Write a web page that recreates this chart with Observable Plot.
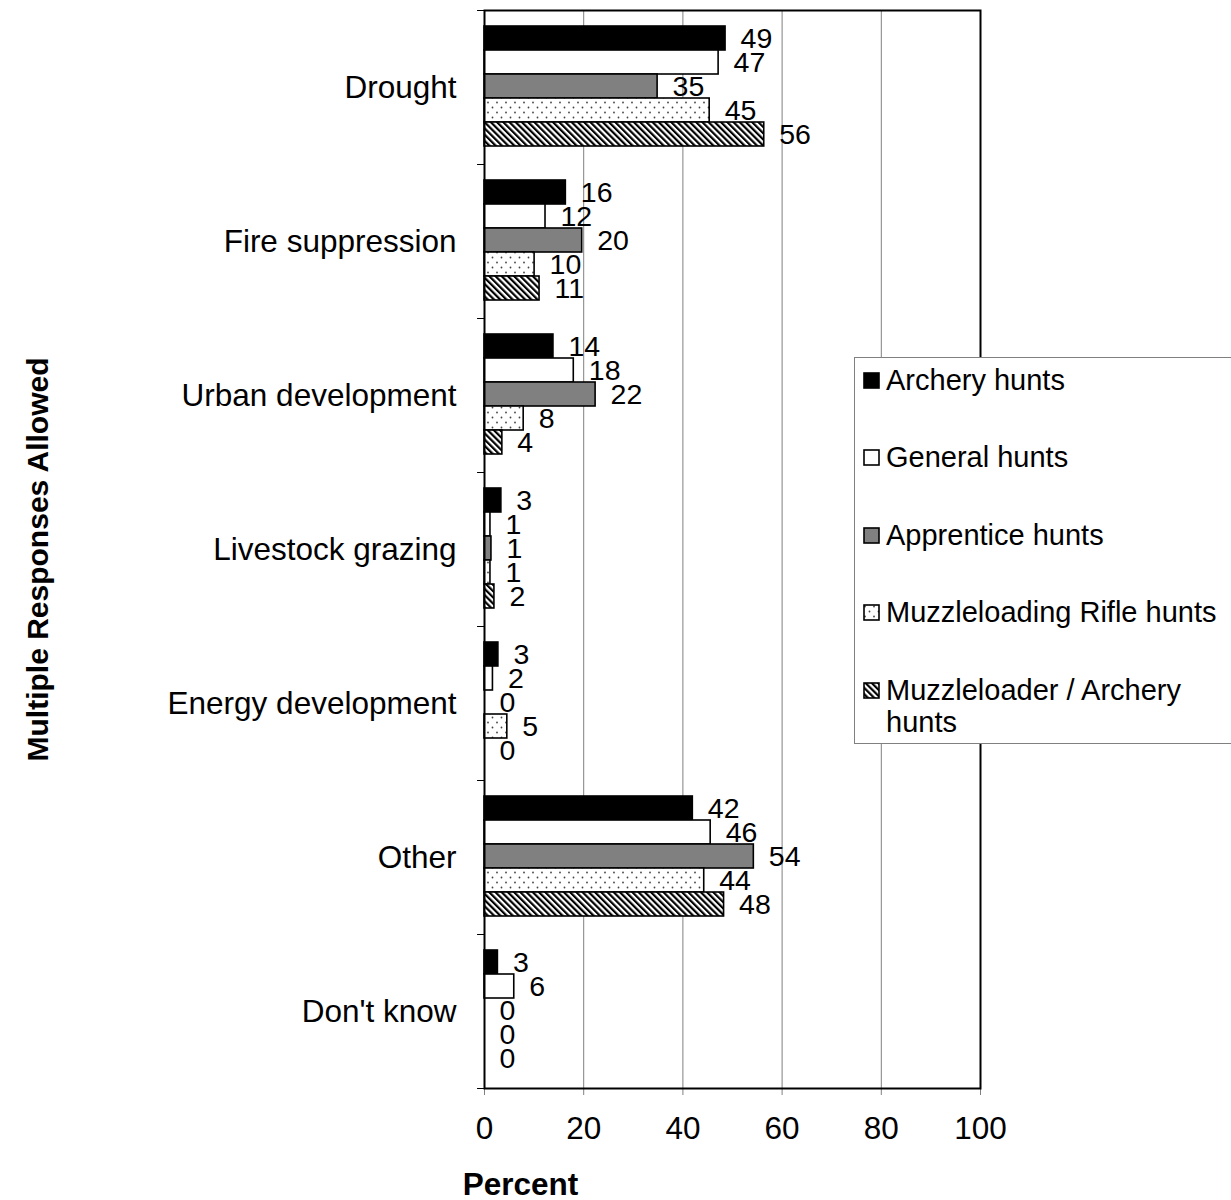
<!DOCTYPE html>
<html>
<head>
<meta charset="utf-8">
<script src="https://cdn.jsdelivr.net/npm/d3@7"></script>
<script src="https://cdn.jsdelivr.net/npm/@observablehq/plot@0.6"></script>
<style>
  html, body { margin: 0; padding: 0; background: #fff; overflow: hidden; }
  #wrap { position: relative; width: 1231px; height: 1200px; font-family: "Liberation Sans", Arial, sans-serif; }
  #legend { position: absolute; left: 854px; top: 357px; width: 420px; height: 387px; border: 1px solid #808080; background: #fff; box-sizing: border-box; }
  .item { position: absolute; left: 8px; display: flex; align-items: flex-start; font-size: 29px; line-height: 32px; color: #000; white-space: nowrap; }
  .item svg { margin-top: 8px; margin-right: 6px; flex: none; }
</style>
</head>
<body>
<div id="wrap"></div>
<script>
const categories = ["Drought", "Fire suppression", "Urban development", "Livestock grazing", "Energy development", "Other", "Don't know"];
const series = ["Archery hunts", "General hunts", "Apprentice hunts", "Muzzleloading Rifle hunts", "Muzzleloader / Archery hunts"];
const archery     = [48.6, 16.4, 13.9, 3.4, 2.8, 42.0, 2.7];
const general     = [47.2, 12.3, 18.0, 1.2, 1.7, 45.6, 6.0];
const apprentice  = [34.9, 19.7, 22.4, 1.4, 0.0, 54.3, 0.0];
const rifle       = [45.4, 10.1, 7.9, 1.2, 4.6, 44.3, 0.0];
const muzzArchery = [56.4, 11.1, 3.6, 2.0, 0.0, 48.3, 0.0];
const xTicks = [0, 20, 40, 60, 80, 100];

const seriesValues = [archery, general, apprentice, rifle, muzzArchery];
const fills = ["#000000", "#ffffff", "#808080", "url(#dots)", "url(#stripes)"];

const data = seriesValues.map((vals, i) => categories.map((c, j) => ({category: c, series: series[i], value: vals[j]})));

const step = 154, top0 = 16, barH = 24;
const fmt = d3.format(".0f");

const marks = [
  Plot.gridX([20, 40, 60, 80], {stroke: "#808080", strokeOpacity: 1, strokeWidth: 1}),
  Plot.axisX({ticks: xTicks, tickSize: 7, tickPadding: 21, fontSize: 31.5, stroke: "#808080", label: null}),
  Plot.axisY({tickSize: 0, tickPadding: 28, fontSize: 31.5, label: null}),
  Plot.ruleY(categories, {y: d => d, dy: -step / 2, x1: -1.4, x2: 0, stroke: "#000", strokeWidth: 1}),
  Plot.ruleY([categories[categories.length - 1]], {y: d => d, dy: step / 2, x1: -1.4, x2: 0, stroke: "#000", strokeWidth: 1})
];
data.forEach((rows, i) => {
  marks.push(Plot.barX(rows, {
    x: "value", y: "category", fill: fills[i], stroke: "#000", strokeWidth: 1.6,
    insetTop: top0 + barH * i, insetBottom: step - (top0 + barH * (i + 1))
  }));
});
data.forEach((rows, i) => {
  marks.push(Plot.text(rows, {
    x: "value", y: "category", text: d => fmt(d.value), textAnchor: "start",
    dx: 15, dy: -step / 2 + top0 + barH * i + barH / 2, fontSize: 28.5, fill: "#000"
  }));
});
marks.push(Plot.frame({stroke: "#000", strokeWidth: 2}));
marks.push(Plot.text(["Multiple Responses Allowed"], {frameAnchor: "left", textAnchor: "middle", rotate: -90, dx: -446, dy: 10, fontSize: 30, fontWeight: "bold", fill: "#000"}));
marks.push(Plot.text(["Percent"], {frameAnchor: "bottom-left", textAnchor: "middle", dx: 36, dy: 106, fontSize: 31.5, fontWeight: "bold", fill: "#000"}));

const chart = Plot.plot({
  width: 1231, height: 1200,
  marginLeft: 484, marginRight: 251, marginTop: 10, marginBottom: 112,
  style: {fontFamily: "'Liberation Sans', Arial, sans-serif", color: "#000", background: "#fff", overflow: "visible"},
  x: {domain: [0, 100]},
  y: {domain: categories, padding: 0},
  marks
});

const defs = `<defs>
  <pattern id="dots" patternUnits="userSpaceOnUse" width="9" height="10">
    <rect width="9" height="10" fill="#fff"/>
    <circle cx="2" cy="2.5" r="0.9" fill="#444"/>
    <circle cx="6.5" cy="7.5" r="0.9" fill="#444"/>
  </pattern>
  <pattern id="stripes" patternUnits="userSpaceOnUse" width="4.4" height="4.4" patternTransform="rotate(-45)">
    <rect width="4.4" height="4.4" fill="#fff"/>
    <rect width="2.2" height="4.4" fill="#000"/>
  </pattern>
</defs>`;
chart.insertAdjacentHTML("afterbegin", defs);

const wrap = document.getElementById("wrap");
wrap.appendChild(chart);

// Legend
const legend = document.createElement("div");
legend.id = "legend";
const rowTops = [364, 441, 519, 596, 674];
series.forEach((s, i) => {
  const item = document.createElement("div");
  item.className = "item";
  item.style.top = (rowTops[i] - 357 - 1) + "px";
  const label = s === "Muzzleloader / Archery hunts" ? "Muzzleloader / Archery<br>hunts" : s;
  item.innerHTML = `<svg width="17" height="17"><rect x="1" y="1" width="15" height="15" fill="${fills[i]}" stroke="#000" stroke-width="1.6"/></svg><span>${label}</span>`;
  legend.appendChild(item);
});
wrap.appendChild(legend);
</script>
</body>
</html>
